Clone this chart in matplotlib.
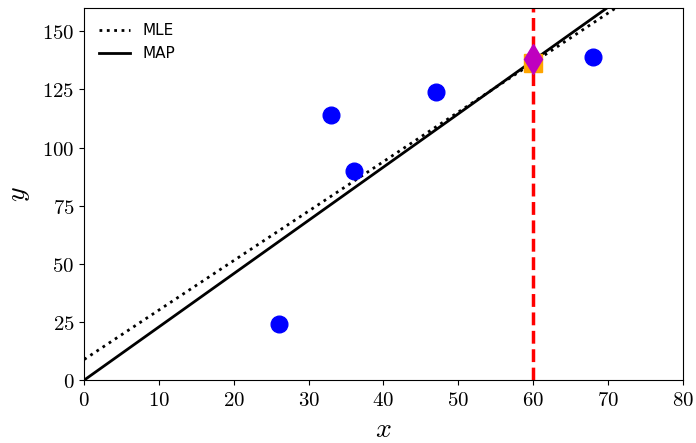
import matplotlib
matplotlib.use("Agg")
import matplotlib.pyplot as plt
import numpy as np
from matplotlib.ticker import FuncFormatter

plt.rcParams['mathtext.fontset'] = 'cm'

# data
x_obs = [26, 33, 36, 47, 68]
y_obs = [24, 114, 90, 124, 139]
mle_intercept = 8.88
mle_slope = 2.127
map_slope = 2.29
x_query = 60
mle_pred = [136.5]
map_pred = [138.0]

fig, ax = plt.subplots(figsize=(6.96, 4.43), dpi=100)
xs = np.linspace(0, 80, 200)
ax.plot(xs, mle_intercept + mle_slope * xs, ':', color='black', lw=2, label='MLE')
ax.plot(xs, map_slope * xs, '-', color='black', lw=2, label='MAP')
ax.plot(x_obs, y_obs, 'o', color='blue', ms=12, ls='none')
ax.axvline(x_query, color='red', ls='--', lw=2.5)
ax.plot([x_query], mle_pred, 's', color='orange', ms=13)
ax.plot([x_query], map_pred, 'd', color='m', ms=15.5)

ax.set_xlim(0, 80)
ax.set_ylim(0, 160)
ax.set_xticks(range(0, 81, 10))
ax.set_yticks(range(0, 151, 25))
fmt = FuncFormatter(lambda v, p: r'$%d$' % v)
ax.xaxis.set_major_formatter(fmt)
ax.yaxis.set_major_formatter(fmt)
ax.tick_params(labelsize=15)
ax.set_xlabel(r'$x$', fontsize=20, labelpad=4)
ax.set_ylabel(r'$y$', fontsize=20, labelpad=7)
ax.legend(loc='upper left', frameon=False, prop={'family': 'DejaVu Sans', 'size': 11},
          borderaxespad=0.6)
fig.subplots_adjust(left=0.121, right=0.981, top=0.982, bottom=0.142)
fig.savefig('out.png', dpi=100)
